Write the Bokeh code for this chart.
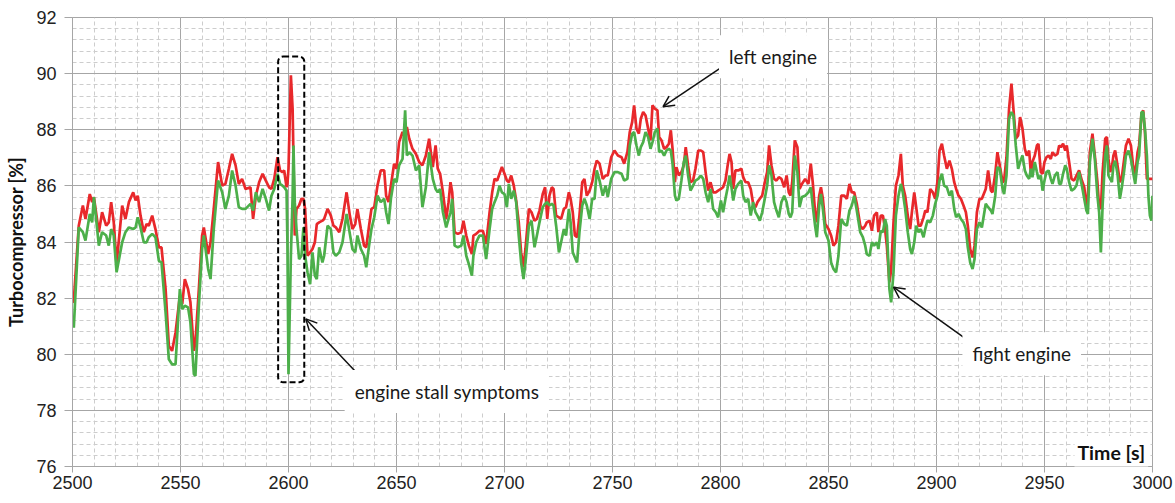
from bokeh.plotting import figure
from bokeh.models import Range1d, SingleIntervalTicker, Label, Arrow, OpenHead, BoxAnnotation, ColumnDataSource
from bokeh.embed import file_html
from bokeh.resources import INLINE

# ---------------- data ----------------
time_s = [
    2500.0, 2500.6, 2502.9, 2504.8, 2506.0, 2508.0, 2509.1, 2509.9, 2512.2, 2513.7,
    2515.6, 2516.8, 2517.9, 2519.1, 2520.4, 2523.0, 2524.5, 2526.1, 2528.1, 2529.2,
    2530.2, 2531.5, 2533.0, 2534.3, 2535.3, 2536.9, 2538.4, 2540.0, 2541.2, 2543.1,
    2544.6, 2546.1, 2547.7, 2549.7, 2550.8, 2552.0, 2553.5, 2554.6, 2556.2, 2556.9,
    2558.5, 2560.0, 2560.8, 2562.8, 2563.9, 2565.4, 2567.4, 2569.3, 2570.8, 2572.4,
    2573.9, 2575.5, 2577.0, 2578.5, 2580.1, 2582.4, 2583.6, 2584.9, 2586.4, 2588.0,
    2589.5, 2591.0, 2592.1, 2593.4, 2594.9, 2596.1, 2597.2, 2598.0, 2599.1, 2599.5,
    2600.0, 2601.1, 2601.9, 2602.3, 2602.9, 2603.7, 2604.9, 2606.0, 2606.9, 2607.7,
    2608.8, 2610.0, 2611.1, 2612.2, 2613.1, 2614.2, 2615.7, 2616.5, 2618.1, 2619.6,
    2620.8, 2621.9, 2623.5, 2625.0, 2626.9, 2628.4, 2629.6, 2630.9, 2631.9, 2633.5,
    2635.0, 2636.0, 2637.3, 2638.4, 2639.7, 2641.2, 2642.7, 2644.3, 2645.2, 2646.3,
    2647.4, 2648.9, 2650.0, 2651.2, 2652.8, 2654.0, 2654.8, 2655.9, 2657.4, 2659.0,
    2660.5, 2662.0, 2663.6, 2665.1, 2666.8, 2668.1, 2669.1, 2670.2, 2671.5, 2673.0,
    2674.1, 2675.0, 2675.8, 2676.9, 2678.4, 2680.0, 2681.0, 2682.3, 2683.5, 2684.9,
    2685.6, 2686.9, 2688.4, 2690.0, 2691.5, 2693.1, 2694.3, 2695.4, 2696.6, 2697.7,
    2698.8, 2700.0, 2701.1, 2702.0, 2703.1, 2704.3, 2705.4, 2706.6, 2707.7, 2708.8,
    2709.7, 2711.3, 2712.5, 2713.9, 2715.0, 2716.2, 2717.7, 2718.8, 2719.8, 2720.8,
    2721.9, 2722.7, 2723.9, 2725.2, 2726.2, 2727.5, 2728.5, 2729.8, 2730.6, 2731.6,
    2732.6, 2733.6, 2734.7, 2736.0, 2737.0, 2738.1, 2739.4, 2740.6, 2741.7, 2742.7,
    2744.0, 2745.5, 2746.8, 2747.8, 2749.4, 2750.9, 2752.5, 2754.2, 2755.4, 2756.9,
    2758.0, 2759.1, 2760.0, 2761.1, 2762.2, 2763.1, 2764.2, 2765.3, 2766.5, 2767.6,
    2768.5, 2769.6, 2770.8, 2771.6, 2772.7, 2773.9, 2775.0, 2776.1, 2777.0, 2777.8,
    2778.9, 2779.6, 2780.7, 2781.9, 2783.0, 2783.9, 2785.0, 2786.1, 2787.3, 2788.4,
    2789.7, 2790.9, 2792.0, 2793.1, 2794.3, 2795.4, 2796.6, 2797.8, 2798.9, 2800.2,
    2801.2, 2802.3, 2803.2, 2804.2, 2805.1, 2805.9, 2806.9, 2808.2, 2809.7, 2810.5,
    2811.6, 2812.8, 2814.0, 2815.1, 2816.2, 2817.1, 2818.2, 2819.3, 2820.5, 2821.6,
    2822.5, 2823.6, 2824.8, 2825.9, 2827.0, 2828.2, 2829.5, 2830.6, 2831.6, 2832.4,
    2833.2, 2834.4, 2835.6, 2836.6, 2837.7, 2839.2, 2840.7, 2841.8, 2842.7, 2843.8,
    2844.6, 2845.7, 2846.5, 2847.4, 2848.5, 2850.0, 2851.2, 2852.3, 2853.5, 2854.6,
    2855.9, 2857.3, 2858.5, 2859.7, 2860.8, 2861.9, 2863.1, 2864.7, 2865.9, 2867.0,
    2867.7, 2869.0, 2870.1, 2871.1, 2872.4, 2873.1, 2874.2, 2875.2, 2876.2, 2877.0,
    2878.2, 2879.0, 2880.1, 2881.2, 2882.4, 2883.5, 2884.4, 2885.5, 2886.7, 2887.8,
    2888.6, 2889.7, 2890.6, 2891.7, 2892.7, 2894.0, 2894.8, 2895.8, 2897.1, 2898.3,
    2899.4, 2900.5, 2901.4, 2902.5, 2903.5, 2904.8, 2906.0, 2907.1, 2908.2, 2909.1,
    2910.2, 2911.3, 2912.5, 2913.6, 2914.5, 2915.6, 2916.7, 2917.6, 2918.7, 2919.9,
    2921.0, 2922.8, 2923.9, 2925.2, 2925.9, 2927.2, 2928.2, 2929.3, 2930.6, 2931.3,
    2932.4, 2933.6, 2934.7, 2935.6, 2936.7, 2937.8, 2938.7, 2939.8, 2940.9, 2941.8,
    2942.9, 2943.7, 2944.4, 2945.5, 2946.5, 2947.2, 2948.3, 2949.1, 2950.0, 2950.9,
    2951.9, 2952.9, 2953.7, 2954.8, 2956.0, 2956.8, 2957.6, 2958.6, 2959.6, 2960.3,
    2961.4, 2962.5, 2963.7, 2964.8, 2966.0, 2967.3, 2968.4, 2969.4, 2970.1, 2971.0,
    2972.2, 2973.3, 2974.5, 2975.3, 2976.1, 2976.9, 2978.1, 2978.9, 2979.6, 2980.4,
    2981.2, 2981.9, 2982.7, 2983.8, 2984.9, 2985.8, 2986.9, 2987.7, 2988.9, 2990.0,
    2991.0, 2992.0, 2993.1, 2993.8, 2994.9, 2995.7, 2996.5, 2997.4, 2998.1, 2998.8,
    2999.5, 3000.0,
]

left_engine = [
    81.85, 81.90, 84.58, 85.30, 84.82, 85.71, 85.42, 85.60, 84.35, 85.06,
    84.58, 84.70, 85.42, 84.70, 83.21, 85.30, 84.82, 85.42, 85.77, 85.48,
    85.65, 84.94, 84.35, 84.64, 84.58, 84.94, 84.46, 83.81, 83.81, 82.32,
    80.30, 80.12, 80.77, 82.08, 81.79, 82.68, 82.32, 81.85, 80.12, 80.42,
    82.32, 84.23, 84.52, 83.57, 83.99, 85.18, 86.85, 86.01, 86.07, 86.61,
    87.14, 86.73, 86.07, 86.25, 85.89, 85.95, 84.82, 85.65, 86.13, 86.43,
    86.19, 85.95, 85.89, 86.25, 87.02, 86.55, 86.49, 86.55, 85.95, 86.07,
    86.61, 89.94, 88.75, 87.00, 84.23, 85.18, 85.30, 85.54, 85.54, 85.18,
    83.51, 83.63, 83.75, 83.99, 84.64, 84.70, 84.76, 84.82, 85.18, 84.94,
    84.58, 84.52, 84.35, 84.82, 85.77, 84.94, 84.46, 84.64, 85.18, 84.46,
    83.87, 83.81, 84.58, 85.18, 85.24, 86.01, 86.55, 86.55, 85.65, 85.42,
    86.01, 86.79, 86.61, 87.56, 87.92, 87.74, 88.10, 87.68, 87.32, 87.14,
    86.85, 86.73, 87.08, 87.68, 86.67, 87.44, 86.61, 86.43, 85.77, 84.82,
    85.42, 86.13, 85.77, 84.35, 84.29, 84.35, 84.76, 84.23, 83.87, 83.57,
    84.23, 84.29, 84.40, 84.40, 83.93, 85.06, 85.77, 86.25, 86.19, 86.43,
    86.67, 86.43, 86.19, 86.13, 86.37, 86.01, 85.48, 84.70, 83.63, 83.10,
    83.75, 85.18, 85.06, 84.76, 84.82, 85.12, 85.71, 85.95, 84.82, 85.65,
    85.95, 85.89, 84.94, 84.88, 84.82, 85.18, 85.24, 85.77, 85.54, 85.06,
    84.23, 84.17, 84.94, 86.13, 86.25, 85.65, 85.83, 86.13, 86.61, 86.90,
    86.79, 86.25, 86.37, 86.37, 87.02, 87.26, 87.08, 87.02, 86.79, 87.20,
    87.92, 88.27, 88.87, 88.04, 87.86, 88.39, 88.63, 88.51, 88.04, 87.62,
    88.87, 88.75, 88.69, 87.74, 87.62, 87.32, 87.38, 87.50, 87.98, 87.32,
    86.13, 86.67, 86.37, 86.49, 86.73, 87.38, 86.73, 86.13, 86.19, 86.61,
    87.26, 87.26, 87.20, 86.49, 85.83, 86.13, 85.77, 85.77, 85.83, 85.89,
    85.95, 86.19, 86.67, 87.14, 86.85, 85.89, 86.55, 86.55, 86.61, 86.31,
    86.13, 86.13, 85.89, 85.36, 85.24, 85.42, 85.54, 85.65, 86.13, 86.49,
    87.44, 86.73, 86.25, 86.19, 86.31, 86.25, 85.95, 86.37, 85.77, 85.65,
    86.13, 87.62, 87.38, 85.89, 86.07, 86.25, 86.07, 86.79, 86.13, 85.06,
    84.70, 85.65, 85.95, 85.54, 84.64, 84.46, 84.23, 83.87, 83.99, 84.58,
    85.65, 85.65, 85.54, 86.07, 85.77, 85.77, 85.36, 84.58, 84.46, 84.58,
    84.70, 84.76, 84.40, 84.94, 85.06, 84.35, 84.94, 84.94, 84.46, 83.87,
    82.56, 83.00, 84.70, 86.01, 86.37, 87.14, 86.01, 85.65, 84.94, 84.46,
    85.06, 85.77, 85.24, 84.58, 84.58, 84.88, 85.12, 85.06, 85.89, 85.77,
    85.54, 86.19, 87.26, 87.50, 87.08, 86.61, 86.90, 86.61, 86.13, 85.89,
    85.65, 85.54, 85.30, 85.06, 84.58, 83.75, 83.45, 83.87, 85.06, 85.54,
    85.54, 85.89, 86.55, 85.83, 85.77, 86.43, 87.20, 86.73, 86.13, 86.19,
    87.02, 88.75, 89.64, 88.75, 87.68, 87.80, 88.45, 88.04, 87.32, 87.08,
    87.26, 86.43, 86.85, 87.08, 87.44, 87.50, 86.49, 86.43, 86.85, 87.02,
    87.08, 86.96, 87.20, 87.08, 87.14, 87.44, 87.38, 87.50, 87.26, 87.44,
    86.85, 86.25, 86.19, 86.37, 86.55, 86.19, 85.95, 85.30, 85.65, 87.20,
    87.86, 87.08, 86.13, 85.24, 85.18, 86.49, 87.68, 87.74, 86.96, 86.49,
    86.67, 87.08, 87.26, 86.73, 86.13, 86.31, 86.96, 87.44, 87.68, 87.44,
    86.73, 86.37, 87.20, 87.44, 88.57, 88.69, 87.92, 86.25, 86.25, 86.25,
    86.25, 86.25,
]

right_engine = [
    81.20, 80.95, 84.52, 84.35, 84.05, 85.00, 84.70, 85.60, 83.87, 84.35,
    84.23, 83.87, 84.46, 84.23, 82.92, 83.99, 84.35, 84.52, 84.46, 84.52,
    84.88, 84.52, 83.99, 83.99, 84.17, 84.29, 84.17, 83.33, 83.27, 81.49,
    79.82, 79.64, 79.64, 82.32, 81.61, 81.73, 81.67, 81.13, 79.29, 79.23,
    81.73, 83.75, 84.23, 83.04, 82.68, 84.46, 86.19, 85.77, 85.18, 85.65,
    86.55, 86.01, 85.24, 85.18, 85.18, 85.36, 85.12, 85.77, 85.42, 85.89,
    85.54, 85.12, 85.65, 85.89, 86.43, 86.07, 86.01, 85.95, 85.83, 84.00,
    79.29, 83.51, 85.60, 87.44, 85.42, 84.46, 83.39, 83.51, 84.52, 83.51,
    82.92, 82.50, 83.63, 82.80, 82.68, 83.81, 83.27, 83.51, 84.58, 84.46,
    83.63, 83.51, 83.63, 83.99, 85.00, 84.29, 83.75, 83.63, 84.23, 83.75,
    83.51, 83.10, 83.87, 84.46, 84.88, 85.65, 85.42, 85.54, 85.06, 84.64,
    85.54, 86.25, 86.13, 86.73, 86.96, 88.69, 87.08, 87.20, 87.08, 86.55,
    86.73, 85.24, 85.95, 87.20, 86.25, 85.89, 85.77, 85.89, 85.06, 84.52,
    84.82, 85.06, 85.54, 83.87, 83.81, 83.87, 84.23, 83.51, 83.21, 82.80,
    83.51, 83.99, 84.23, 84.23, 83.39, 84.46, 85.18, 85.42, 85.65, 86.01,
    85.77, 85.71, 85.24, 86.07, 85.54, 85.83, 85.42, 84.23, 83.27, 82.68,
    83.27, 84.58, 84.76, 83.81, 84.23, 84.70, 85.24, 85.36, 85.42, 85.30,
    85.36, 85.30, 84.58, 83.63, 83.99, 84.46, 84.23, 85.18, 84.70, 83.63,
    83.45, 83.27, 84.35, 85.30, 85.54, 85.30, 84.82, 85.54, 85.54, 86.55,
    86.19, 85.65, 86.01, 85.60, 86.25, 86.49, 86.49, 86.43, 86.19, 86.25,
    87.44, 87.86, 87.92, 87.44, 87.08, 87.38, 87.56, 87.92, 87.74, 87.32,
    87.56, 87.92, 88.04, 87.20, 87.26, 87.08, 87.26, 87.32, 87.26, 86.79,
    85.65, 85.48, 85.54, 86.19, 86.85, 87.08, 86.37, 85.83, 86.01, 86.19,
    86.25, 86.37, 86.25, 85.77, 85.42, 85.89, 85.18, 85.06, 84.88, 85.48,
    85.06, 85.54, 85.89, 86.37, 85.95, 85.48, 85.89, 86.07, 86.19, 85.65,
    85.42, 85.54, 84.94, 85.42, 85.06, 84.94, 84.76, 85.06, 85.54, 86.01,
    86.73, 86.37, 85.42, 85.12, 84.88, 85.42, 85.65, 85.42, 85.00, 84.88,
    85.06, 87.08, 86.49, 85.24, 85.60, 85.65, 85.77, 85.95, 85.30, 84.58,
    84.17, 85.30, 85.71, 85.18, 84.35, 84.05, 83.27, 83.04, 82.92, 83.51,
    84.82, 84.64, 84.58, 85.12, 85.30, 85.65, 85.12, 84.35, 84.17, 83.87,
    83.57, 83.51, 83.99, 83.87, 83.99, 83.75, 84.40, 84.35, 84.82, 84.58,
    82.32, 81.85, 82.92, 84.94, 85.65, 86.07, 85.77, 85.18, 84.35, 83.75,
    83.57, 83.99, 84.58, 84.35, 84.46, 84.17, 84.46, 84.76, 84.70, 84.94,
    85.36, 85.65, 86.19, 86.43, 86.01, 85.95, 85.65, 85.83, 85.18, 84.88,
    85.00, 84.82, 84.70, 84.46, 83.81, 83.27, 83.04, 83.39, 84.46, 84.70,
    84.52, 85.36, 85.24, 85.12, 85.00, 85.65, 86.67, 86.61, 85.89, 85.71,
    86.37, 88.39, 88.63, 88.51, 87.44, 86.61, 86.85, 87.08, 86.55, 86.37,
    86.25, 86.61, 86.31, 86.85, 86.49, 86.25, 86.37, 85.83, 86.19, 86.49,
    86.55, 86.25, 86.07, 86.37, 86.49, 86.07, 86.07, 86.43, 86.73, 86.61,
    86.13, 85.83, 85.89, 86.01, 86.49, 86.01, 85.54, 85.12, 85.00, 86.85,
    87.68, 86.96, 85.65, 85.06, 83.63, 85.30, 87.08, 87.44, 86.37, 86.25,
    86.13, 86.73, 86.90, 86.43, 85.54, 85.95, 86.55, 87.08, 87.26, 86.96,
    86.49, 86.07, 86.85, 87.08, 88.63, 88.63, 88.04, 87.08, 85.65, 84.94,
    84.76, 85.65,
]

# axis settings
x_start, x_end, x_major, x_minor_count = 2500, 3000, 50, 5
y_start, y_end, y_major, y_minor_count = 76, 92, 2, 5

# annotations (data coordinates)
note_texts = ["left engine", "engine stall symptoms", "fight engine"]
note_x = [2799.3, 2626.0, 2912.0]
note_y = [90.60, 78.67, 80.02]
arrow_start_x = [2804.4, 2634.3, 2913.6]
arrow_start_y = [90.43, 79.12, 80.55]
arrow_end_x = [2773.4, 2608.0, 2880.1]
arrow_end_y = [88.82, 81.26, 82.39]
stall_box = dict(left=2595.2, right=2607.3, bottom=79.0, top=90.61)
time_label_pos = (2998.0, 76.5)

# ---------------- figure ----------------
GRID = "#a6a6a6"
MINOR = "#cdcdcd"

p = figure(width=1175, height=503, output_backend="svg", toolbar_location=None,
           x_range=Range1d(x_start, x_end), y_range=Range1d(y_start, y_end),
           min_border_left=72, min_border_right=23, min_border_top=17, min_border_bottom=37)
p.outline_line_color = GRID
p.background_fill_color = "white"
p.border_fill_color = "white"

xt = SingleIntervalTicker(interval=x_major, num_minor_ticks=x_minor_count)
yt = SingleIntervalTicker(interval=y_major, num_minor_ticks=y_minor_count)
p.xaxis.ticker = xt
p.yaxis.ticker = yt
p.xgrid.ticker = xt
p.ygrid.ticker = yt

for g in (p.xgrid, p.ygrid):
    g.grid_line_color = GRID
    g.grid_line_width = 1
    g.minor_grid_line_color = MINOR
    g.minor_grid_line_dash = "4 3"
    g.minor_grid_line_width = 1

for ax in (p.xaxis, p.yaxis):
    ax.axis_line_color = GRID
    ax.major_tick_line_color = GRID
    ax.minor_tick_line_color = None
    ax.major_tick_in = 0
    ax.major_label_text_font = "Liberation Sans"
    ax.major_label_text_font_size = "18px"
    ax.major_label_text_color = "#222222"

p.xaxis.major_tick_out = 6
p.xaxis.major_label_standoff = 3
p.yaxis.major_tick_out = 8
p.yaxis.major_label_standoff = 8

p.yaxis.axis_label = "Turbocompressor [%]"
p.yaxis.axis_label_text_font = "Lato"
p.yaxis.axis_label_text_font_style = "bold"
p.yaxis.axis_label_text_font_size = "18px"
p.yaxis.axis_label_text_color = "#111111"
p.yaxis.axis_label_standoff = 6

src = ColumnDataSource(dict(t=time_s, left=left_engine, right=right_engine))
p.line("t", "left", source=src, line_color="#e8282b", line_width=2.7)
p.line("t", "right", source=src, line_color="#4caf4a", line_width=2.7)

# dashed box around the stall
p.add_layout(BoxAnnotation(left=stall_box["left"], right=stall_box["right"],
                           bottom=stall_box["bottom"], top=stall_box["top"],
                           fill_alpha=0, line_color="black", line_alpha=1.0, line_width=2,
                           line_dash="6 3", border_radius=5))

for i in range(3):
    p.add_layout(Arrow(end=OpenHead(size=11, line_width=1.5, line_color="#111111"),
                       x_start=arrow_start_x[i], y_start=arrow_start_y[i],
                       x_end=arrow_end_x[i], y_end=arrow_end_y[i],
                       line_width=1.5, line_color="#111111"))

for i in range(3):
    p.add_layout(Label(x=note_x[i], y=note_y[i], text=note_texts[i],
                       text_font="Lato", text_font_size="19px", text_color="#1a1a1a",
                       text_baseline="middle", text_align="left",
                       background_fill_color="white", padding=10))

p.add_layout(Label(x=time_label_pos[0], y=time_label_pos[1], text="Time [s]",
                   text_font="Lato", text_font_style="bold", text_font_size="19.5px",
                   text_color="#111111", text_baseline="middle", text_align="right",
                   background_fill_color="white", padding=(3, 5)))

open("out.html", "w").write(file_html(p, INLINE))
